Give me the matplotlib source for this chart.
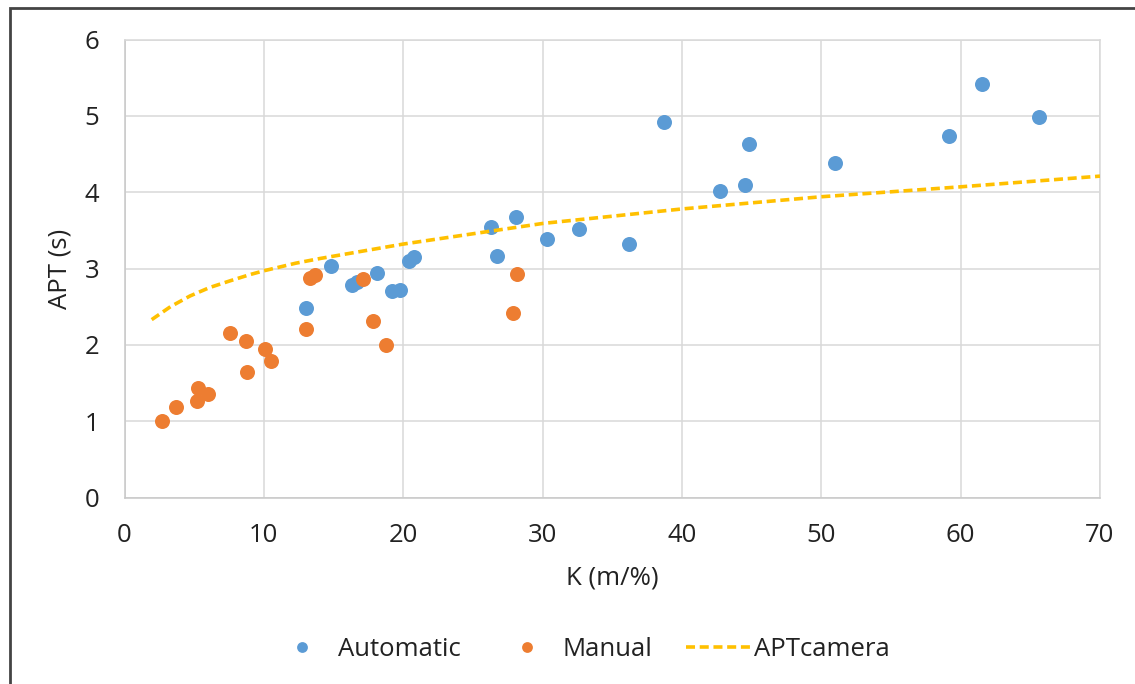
import matplotlib
matplotlib.use("Agg")
import matplotlib.pyplot as plt
from matplotlib.patches import Rectangle

# ---- data ----
auto_k = [13.0, 14.8, 16.3, 16.7, 18.1, 19.2, 19.8, 20.4, 20.8, 26.3, 26.7, 28.1,
          30.3, 32.6, 36.2, 38.7, 42.7, 44.5, 44.8, 51.0, 59.2, 61.5, 65.6]
auto_apt = [2.48, 3.03, 2.78, 2.82, 2.94, 2.70, 2.72, 3.10, 3.15, 3.54, 3.16, 3.67,
            3.38, 3.52, 3.32, 4.92, 4.02, 4.09, 4.63, 4.38, 4.74, 5.42, 4.98]

manual_k = [2.7, 3.7, 5.2, 5.3, 6.0, 7.6, 8.7, 8.8, 10.1, 10.5, 13.0, 13.3, 13.7,
            17.1, 17.8, 18.8, 27.9, 28.2]
manual_apt = [1.00, 1.18, 1.27, 1.43, 1.35, 2.16, 2.05, 1.65, 1.95, 1.79, 2.21, 2.88,
              2.92, 2.86, 2.31, 2.00, 2.42, 2.93]

cam_k = [1.95, 3.3, 4.7, 6.1, 7.6, 9.0, 10, 12.3, 14, 20, 30, 40, 50, 60, 70]
cam_apt = [2.33, 2.50, 2.64, 2.75, 2.84, 2.92, 2.97, 3.07, 3.13, 3.32, 3.59, 3.78,
           3.94, 4.07, 4.21]

BLUE = "#5B9BD5"
ORANGE = "#ED7D31"
GOLD = "#FFC000"
GRID = "#d9d9d9"
TXT = "#222222"
FS = 18.5

plt.rcParams["font.family"] = ["Open Sans", "DejaVu Sans"]

fig = plt.figure(figsize=(11.35, 6.84), dpi=100)
ax = fig.add_axes([124.5 / 1135, 1 - 497.5 / 684, 975.5 / 1135, 458 / 684])

ax.plot(auto_k, auto_apt, "o", color=BLUE, ms=10.8, mew=0, label="Automatic", zorder=3)
ax.plot(manual_k, manual_apt, "o", color=ORANGE, ms=10.8, mew=0, label="Manual", zorder=4)
ax.plot(cam_k, cam_apt, color=GOLD, lw=2.6, dashes=(2.5, 1.3), label="APTcamera", zorder=5)

ax.set_xlim(0, 70)
ax.set_ylim(0, 6)
ax.set_xticks(range(0, 71, 10))
ax.set_yticks(range(0, 7))
ax.grid(True, color=GRID, lw=1.1)
ax.set_axisbelow(True)
for s in ax.spines.values():
    s.set_color(GRID)
    s.set_linewidth(1.1)
ax.spines["left"].set_color("#c8c8c8")
ax.spines["bottom"].set_color("#c8c8c8")
ax.tick_params(length=0, pad=18, labelsize=FS, labelcolor=TXT)

ax.set_xlabel("K (m/%)", fontsize=FS, color=TXT)
ax.set_ylabel("APT (s)", fontsize=FS, color=TXT)
ax.xaxis.set_label_coords(0.5, -(578 - 497.5) / 458)
ax.xaxis.label.set_va("center")
ax.yaxis.set_label_coords(-(124.5 - 60) / 975.5, 0.5)
ax.yaxis.label.set_va("center")

leg = fig.legend(loc="center", bbox_to_anchor=(580 / 1135, 1 - 649 / 684), ncol=3,
                 frameon=False, fontsize=FS, markerscale=0.72, handlelength=2.5,
                 handletextpad=0.15, columnspacing=1.3)
for t in leg.get_texts():
    t.set_color(TXT)

# outer frame of the chart area (only top and left edges are inside the image)
fig.patches.append(Rectangle((10 / 1135, -0.1), 1.2, 1.1 - 8 / 684,
                             transform=fig.transFigure, fill=False,
                             ec="#444444", lw=2.0))

fig.savefig("out.png", dpi=100)
